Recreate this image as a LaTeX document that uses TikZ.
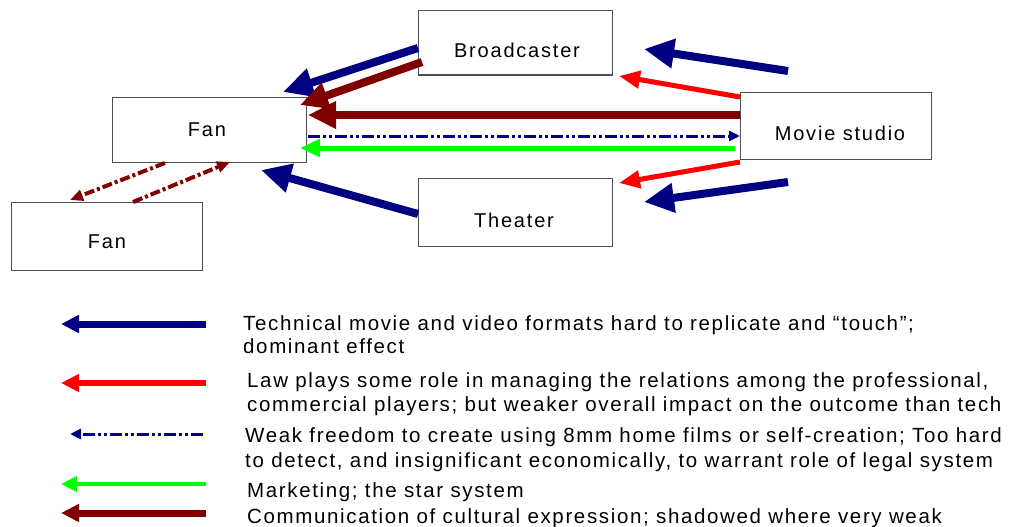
\documentclass[tikz,border=0pt]{standalone}
\usepackage{fontspec}
\setmainfont{Liberation Sans}
\newfontfamily\boxfont[LetterSpace=9]{Liberation Sans}
\newfontfamily\legfont[LetterSpace=8]{Liberation Sans}
\usetikzlibrary{arrows.meta}
\definecolor{navy}{HTML}{000080}
\definecolor{lawred}{HTML}{FF0000}
\definecolor{mktgreen}{HTML}{00FF00}
\definecolor{culture}{HTML}{800000}
\definecolor{boxline}{HTML}{505050}
\begin{document}
\begin{tikzpicture}[x=1pt,y=-1pt,
  box/.style={draw=boxline, line width=1pt, fill=white, inner sep=0pt},
  boxlbl/.style={font=\boxfont\fontsize{20}{24}\selectfont, inner sep=0pt, anchor=center},
  leg/.style={font=\legfont\fontsize{20.5}{24}\selectfont, inner sep=0pt, anchor=base west},
  tech/.style={draw=navy, line width=8pt, -{Triangle[length=30pt,width=28pt]}},
  techleg/.style={draw=navy, line width=7pt, -{Triangle[length=18pt,width=17pt]}},
  law/.style={draw=lawred, line width=5pt, -{Triangle[length=21pt,width=17pt]}},
  lawleg/.style={draw=lawred, line width=6pt, -{Triangle[length=18pt,width=17pt]}},
  weak/.style={draw=navy, line width=3pt, dash pattern=on 12pt off 3pt on 3pt off 3pt on 3pt off 3pt, -{Triangle[length=11pt,width=10pt]}},
  mkt/.style={draw=mktgreen, line width=5pt, -{Triangle[length=20pt,width=17pt]}},
  mktleg/.style={draw=mktgreen, line width=4pt, -{Triangle[length=16pt,width=15pt]}},
  cult/.style={draw=culture, line width=8pt, -{Triangle[length=28pt,width=26pt]}},
  cultleg/.style={draw=culture, line width=7pt, -{Triangle[length=18pt,width=17pt]}},
  shadow/.style={draw=culture, line width=4pt, dash pattern=on 10pt off 3pt on 3pt off 3pt, -{Triangle[length=13pt,width=11pt]}}
]
\useasboundingbox (0,0) rectangle (1025,527);

% boxes
\node[box, minimum width=194pt, minimum height=64pt] (bc) at (515,43) {};
\node[box, minimum width=194pt, minimum height=65pt] (fan) at (209,129.5) {};
\node[box, minimum width=191pt, minimum height=68pt] (fan2) at (106.5,236) {};
\node[box, minimum width=194pt, minimum height=68pt] (th) at (515,212) {};
\node[box, minimum width=191pt, minimum height=67pt] (ms) at (835.5,125.5) {};

\node[boxlbl] (bcl) at (517,50) {Broadcaster};
\node[boxlbl] (fanl) at (207,130) {Fan};
\node[boxlbl] (fan2l) at (107,242) {Fan};
\node[boxlbl] (thl) at (514,220) {Theater};
\node[boxlbl] (msl) at (840,133) {Movie studio};

% free ends of connectors
\coordinate (bcA) at (418,48);  \coordinate (fanA) at (283,92);
\coordinate (bcB) at (422,62);  \coordinate (fanB) at (300,105);
\coordinate (msC) at (740,115); \coordinate (fanC) at (308,115);
\coordinate (fanD) at (308,136); \coordinate (msD) at (740,136);
\coordinate (msE) at (735,148); \coordinate (fanE) at (300,148);
\coordinate (thF) at (418,214); \coordinate (fanF) at (261,170);
\coordinate (fanG) at (165,163); \coordinate (fan2G) at (70,200);
\coordinate (fan2H) at (133,202); \coordinate (fanH) at (230,162);
\coordinate (srcI) at (788,71); \coordinate (bcI) at (644,49);
\coordinate (msJ) at (740,97); \coordinate (bcJ) at (619,76);
\coordinate (msK) at (740,162); \coordinate (thK) at (619,183);
\coordinate (srcL) at (788,182); \coordinate (thL) at (644,202);

\draw[tech] (bcA) -- (fanA);
\draw[cult] (bcB) -- (fanB);
\draw[cult] (msC) -- (fanC);
\draw[weak] (fanD) -- (msD);
\draw[mkt] (msE) -- (fanE);
\draw[tech] (thF) -- (fanF);
\draw[shadow] (fanG) -- (fan2G);
\draw[shadow] (fan2H) -- (fanH);
\draw[tech] (srcI) -- (bcI);
\draw[law] (msJ) -- (bcJ);
\draw[law] (msK) -- (thK);
\draw[tech] (srcL) -- (thL);

% legend
\coordinate (l1a) at (206,324); \coordinate (l1b) at (61,324);
\coordinate (l2a) at (206,383); \coordinate (l2b) at (61,383);
\coordinate (l3a) at (203,434); \coordinate (l3b) at (70,434);
\coordinate (l4a) at (206,484); \coordinate (l4b) at (61,484);
\coordinate (l5a) at (206,513); \coordinate (l5b) at (61,513);
\draw[techleg] (l1a) -- (l1b);
\draw[lawleg] (l2a) -- (l2b);
\draw[weak] (l3a) -- (l3b);
\draw[mktleg] (l4a) -- (l4b);
\draw[cultleg] (l5a) -- (l5b);

\node[leg] (t1a) at (243,330.5) {Technical movie and video formats hard to replicate and “touch”;};
\node[leg] (t1b) at (243,353) {dominant effect};
\node[leg] (t2a) at (247,387) {Law plays some role in managing the relations among the professional,};
\node[leg] (t2b) at (247,411) {commercial players; but weaker overall impact on the outcome than tech};
\node[leg] (t3a) at (245,442) {Weak freedom to create using 8mm home films or self-creation; Too hard};
\node[leg] (t3b) at (245,467) {to detect, and insignificant economically, to warrant role of legal system};
\node[leg] (t4) at (247,497) {Marketing; the star system};
\node[leg] (t5) at (247,523) {Communication of cultural expression; shadowed where very weak};
\end{tikzpicture}
\end{document}
